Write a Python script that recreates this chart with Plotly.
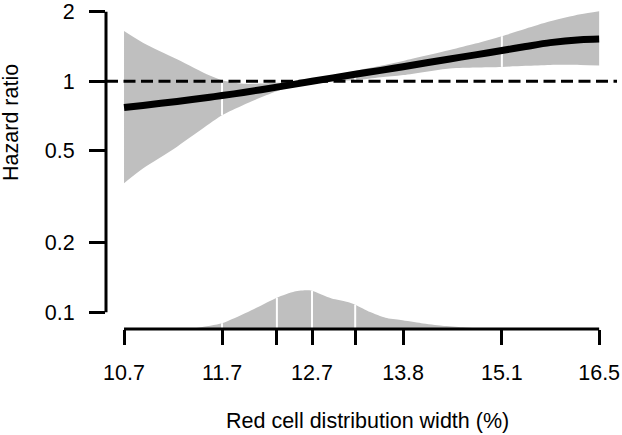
import plotly.graph_objects as go

# ---- data ----
rdw = [10.70, 10.886, 11.23, 11.57, 11.70, 11.93, 12.30, 12.70, 13.21, 13.52,
       13.80, 14.40, 14.74, 15.10, 15.43, 15.78, 16.22, 16.50]
hr_fit = [0.770, 0.786, 0.818, 0.853, 0.867, 0.894, 0.943, 1.000, 1.072, 1.115,
          1.156, 1.249, 1.301, 1.359, 1.414, 1.470, 1.514, 1.525]
hr_lower = [0.362, 0.419, 0.521, 0.656, 0.712, 0.789, 0.905, 1.000, 1.010, 1.040,
            1.064, 1.137, 1.148, 1.154, 1.166, 1.177, 1.177, 1.171]
hr_upper = [1.651, 1.470, 1.246, 1.058, 1.010, 0.975, 0.985, 1.000, 1.109, 1.166,
            1.225, 1.365, 1.456, 1.568, 1.689, 1.818, 1.949, 2.011]
band_breaks = [11.70, 13.21, 15.10]

dens_x = [11.37, 11.46, 11.70, 11.98, 12.30, 12.50, 12.64, 12.70, 12.93, 13.12,
          13.21, 13.39, 13.58, 13.77, 14.03, 14.30, 14.57, 14.83]
dens_y = [0.0, 0.04, 0.15, 0.44, 0.81, 0.97, 1.00, 0.99, 0.79, 0.70,
          0.63, 0.44, 0.29, 0.23, 0.15, 0.085, 0.045, 0.0]
dens_breaks = [11.70, 12.30, 12.70, 13.21]

x_tick_vals = [10.7, 11.7, 12.3, 12.7, 13.21, 13.8, 15.1, 16.5]
x_tick_text = ["10.7", "11.7", "", "12.7", "", "13.8", "15.1", "16.5"]
y_tick_vals = [0.1, 0.2, 0.5, 1, 2]
y_tick_text = ["0.1", "0.2", "0.5", "1", "2"]
ref_hr = 1

x_title = "Red cell distribution width (%)"
y_title = "Hazard ratio"

# ---- styling ----
GRAY = "#bfbfbf"
FONT = "Liberation Sans, Arial, sans-serif"
FS = 21.5
x_range_log = [1.02225, 1.22455]
y_range_log = [-1.073, 0.339]
dens_range = [0, 8.44]

fig = go.Figure()

# confidence band
fig.add_trace(go.Scatter(x=rdw, y=hr_lower, mode="lines", line=dict(width=0, shape="spline", smoothing=0.8),
                         hoverinfo="skip"))
fig.add_trace(go.Scatter(x=rdw, y=hr_upper, mode="lines", line=dict(width=0, shape="spline", smoothing=0.8),
                         fill="tonexty", fillcolor=GRAY, hoverinfo="skip"))
# white breaks in the band
bx, by = [], []
for b in band_breaks:
    i = rdw.index(b)
    bx += [b, b, None]
    by += [hr_lower[i], hr_upper[i], None]
fig.add_trace(go.Scatter(x=bx, y=by, mode="lines", line=dict(color="white", width=2), hoverinfo="skip"))

# density
fig.add_trace(go.Scatter(x=dens_x, y=dens_y, yaxis="y2", mode="lines",
                         line=dict(width=0, shape="spline", smoothing=0.6),
                         fill="tozeroy", fillcolor=GRAY, hoverinfo="skip"))
dx, dy = [], []
for b in dens_breaks:
    i = dens_x.index(b)
    dx += [b, b, None]
    dy += [0, dens_y[i], None]
fig.add_trace(go.Scatter(x=dx, y=dy, yaxis="y2", mode="lines", line=dict(color="white", width=2),
                         hoverinfo="skip"))

# reference line at HR = 1
fig.add_trace(go.Scatter(x=[10 ** x_range_log[0], 10 ** x_range_log[1]], y=[ref_hr, ref_hr], mode="lines",
                         line=dict(color="black", width=3, dash="12px,5.5px"), hoverinfo="skip"))

# fitted curve
fig.add_trace(go.Scatter(x=rdw, y=hr_fit, mode="lines",
                         line=dict(color="black", width=7, shape="spline", smoothing=0.8), hoverinfo="skip"))

fig.update_layout(
    width=622, height=435,
    margin=dict(l=106, r=5, t=0, b=106),
    plot_bgcolor="white", paper_bgcolor="white",
    showlegend=False,
    font=dict(family=FONT, size=FS, color="black"),
    xaxis=dict(type="log", range=x_range_log, tickvals=x_tick_vals, ticktext=x_tick_text,
               ticks="outside", ticklen=15, tickwidth=3, tickcolor="black",
               showgrid=False, zeroline=False, showline=False, ticklabelstandoff=9,
               ticklabeloverflow="allow", tickfont=dict(size=FS)),
    yaxis=dict(type="log", range=y_range_log, tickvals=y_tick_vals, ticktext=y_tick_text,
               ticks="outside", ticklen=16, tickwidth=3, tickcolor="black",
               showgrid=False, zeroline=False, showline=False, ticklabelstandoff=10,
               ticklabeloverflow="allow", tickfont=dict(size=FS)),
    yaxis2=dict(overlaying="y", range=dens_range, visible=False),
    shapes=[
        dict(type="line", xref="x", yref="paper", x0=x_tick_vals[0], x1=x_tick_vals[-1], y0=0, y1=0,
             line=dict(color="black", width=3)),
        dict(type="line", xref="paper", yref="y", x0=0, x1=0, y0=y_tick_vals[0], y1=y_tick_vals[-1],
             line=dict(color="black", width=3)),
    ],
    annotations=[
        dict(text=x_title, xref="paper", yref="paper", x=0.5127, y=-0.283, showarrow=False,
             xanchor="center", yanchor="middle", font=dict(size=FS)),
        dict(text=y_title, xref="paper", yref="paper", x=-0.186, y=0.635, showarrow=False,
             xanchor="center", yanchor="middle", textangle=-90, font=dict(size=FS)),
    ],
)

fig.write_html("out.html", config={"displayModeBar": False},
               post_script="document.body.style.margin='0';")
